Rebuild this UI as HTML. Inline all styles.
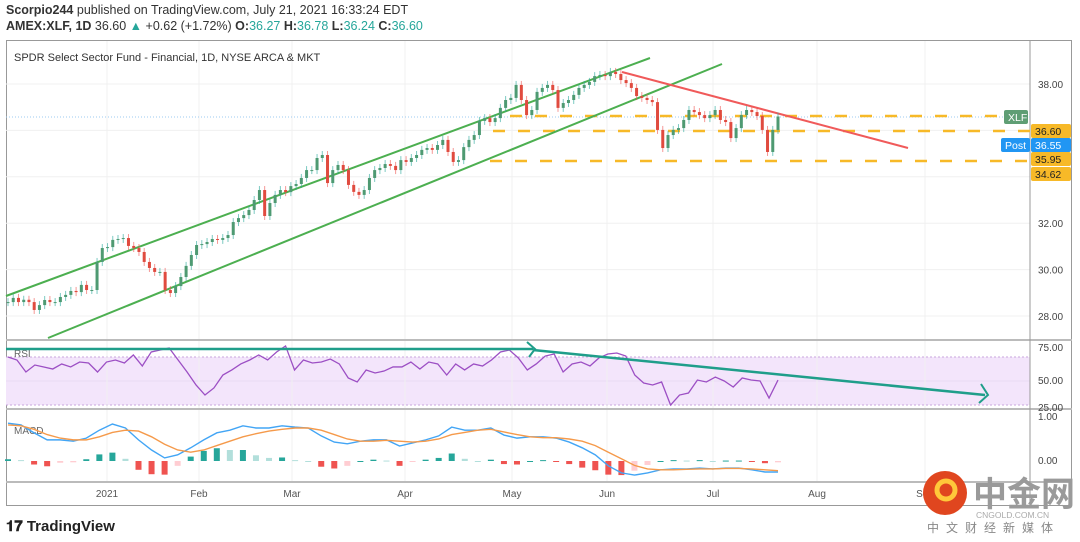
<!DOCTYPE html>
<html><head><meta charset="utf-8"><style>
body{margin:0;width:1080px;height:542px;background:#fff;overflow:hidden;font-family:"Liberation Sans","Noto Sans CJK SC",sans-serif;}
#hdr1{position:absolute;left:6px;top:3px;font-size:12.5px;color:#333;}
#hdr2{position:absolute;left:6px;top:19px;font-size:12.5px;color:#333;}
.t{color:#26a69a}
svg{position:absolute;left:0;top:0}
</style></head><body>
<div id="hdr1"><b>Scorpio244</b> published on TradingView.com, July 21, 2021 16:33:24 EDT</div>
<div id="hdr2"><b>AMEX:XLF, 1D</b> 36.60 <span class="t">▲</span> +0.62 (+1.72%) <b>O:</b><span class="t">36.27</span> <b>H:</b><span class="t">36.78</span> <b>L:</b><span class="t">36.24</span> <b>C:</b><span class="t">36.60</span></div>
<svg id="c" width="1080" height="542"></svg>
<script>
const closes=[28.6,28.78,28.6,28.7,28.6,28.26,28.47,28.69,28.6,28.6,28.82,28.91,29.08,29.03,29.34,29.12,29.12,30.33,30.93,30.97,31.28,31.32,31.36,31.02,30.93,30.76,30.33,30.07,29.9,29.9,29.12,28.99,29.29,29.68,30.16,30.63,31.06,31.1,31.19,31.32,31.28,31.36,31.49,32.05,32.22,32.35,32.57,33.0,33.43,32.31,32.87,33.22,33.43,33.34,33.6,33.69,33.95,34.29,34.29,34.81,34.94,33.73,34.29,34.51,34.29,33.65,33.35,33.22,33.43,33.95,34.29,34.38,34.55,34.47,34.29,34.72,34.64,34.81,34.94,35.16,35.24,35.16,35.37,35.59,35.07,34.64,34.72,35.28,35.59,35.8,36.41,36.53,36.36,36.53,36.97,37.31,37.4,37.96,37.31,36.66,36.88,37.66,37.83,37.96,37.74,36.97,37.18,37.31,37.53,37.83,37.96,38.09,38.34,38.39,38.34,38.52,38.43,38.17,38.04,37.83,37.48,37.4,37.31,37.22,36.02,35.24,35.8,36.02,36.1,36.45,36.88,36.79,36.66,36.53,36.66,36.88,36.45,36.36,35.67,36.1,36.66,36.88,36.79,36.62,36.02,35.07,36.02,36.6];
const rsi=[70,67.5,57.5,63.3,61.7,60,64.2,61.7,65.8,65,57.5,65.8,67.5,65,71.7,62.5,74.2,75.8,77.5,67.5,57.5,46.7,38.3,44.2,55,59.2,64.2,67.5,71.7,67.5,74.2,79.2,59.2,67.5,65,65.8,68.3,64.2,52.5,49.2,59.2,56.7,58.3,61.7,61.7,65.8,60,65.8,64.2,55,64.2,59.2,64.2,62.5,67.5,74.2,75.8,69.2,59.2,64.2,70.8,72.5,57.5,64.2,65.8,62.5,69.2,72.5,73.3,70.8,55,48.3,46.7,49.2,30,38.3,40,50.8,49.2,53.3,50,45,52.5,50.8,50,35.8,50.8];
const macd=[0.86,0.82,0.64,0.48,0.48,0.45,0.52,0.7,0.84,0.75,0.48,0.25,0.07,0.14,0.3,0.48,0.64,0.7,0.8,0.75,0.75,0.8,0.77,0.75,0.57,0.43,0.39,0.45,0.48,0.48,0.34,0.41,0.48,0.57,0.77,0.7,0.7,0.75,0.59,0.52,0.55,0.55,0.52,0.43,0.3,0.14,-0.11,-0.27,-0.32,-0.27,-0.2,-0.18,-0.18,-0.16,-0.18,-0.16,-0.16,-0.2,-0.25,-0.25];
const signal=[0.82,0.8,0.72,0.6,0.52,0.48,0.48,0.55,0.65,0.7,0.68,0.55,0.38,0.25,0.2,0.25,0.35,0.45,0.55,0.62,0.68,0.72,0.75,0.75,0.7,0.6,0.5,0.45,0.45,0.47,0.45,0.43,0.45,0.5,0.6,0.65,0.7,0.72,0.66,0.6,0.55,0.53,0.53,0.5,0.45,0.35,0.2,0.05,-0.1,-0.18,-0.2,-0.2,-0.19,-0.18,-0.18,-0.17,-0.17,-0.18,-0.2,-0.22];
const priceTicks=["38.00","32.00","30.00","28.00"];
const monthLabels=["2021","Feb","Mar","Apr","May","Jun","Jul","Aug","Sep"];
const monthPos=[107,199,292,405,512,607,713,817,925];

const S=document.getElementById('c');const NS='http://www.w3.org/2000/svg';
function mk(t,a,name,p){const e=document.createElementNS(NS,t);for(const k in a)e.setAttribute(k,a[k]);


(p||S).appendChild(e);return e;}
const X0=8,X1=778;
const xi=(i,n)=>X0+i*(X1-X0)/(n-1);
const yP=p=>84+(38-p)*23.2;
const yR=v=>381-(v-50)*1.2;
const yM=v=>461-v*44;
mk('rect',{x:6.5,y:40.5,width:1065,height:465,fill:'none',stroke:'#999'},'chart-frame');
mk('rect',{x:6,y:357,width:1024,height:48,fill:'#f3e5fb'},'rsi-band');
mk('line',{x1:6,y1:357,x2:1030,y2:357,stroke:'#c9a6dd','stroke-dasharray':'2 2'},'rsi-upper');
mk('line',{x1:6,y1:405,x2:1030,y2:405,stroke:'#c9a6dd','stroke-dasharray':'2 2'},'rsi-lower');
mk('line',{x1:6,y1:381,x2:1030,y2:381,stroke:'#eadcf3'},'rsi-mid');
monthPos.forEach((x,i)=>{mk('line',{x1:x,y1:41,x2:x,y2:482,stroke:'#f0f0f0'},'grid-v');
const t=mk('text',{x:x,y:497,'font-size':10,'text-anchor':'middle',fill:'#555'},'time-label');t.textContent=monthLabels[i];});
[38,32,30,28,34,36].forEach(p=>mk('line',{x1:6,y1:yP(p),x2:1030,y2:yP(p),stroke:'#f0f0f0'},'grid-h'));
[340,409,482].forEach(y=>mk('line',{x1:6,y1:y,x2:1072,y2:y,stroke:'#bbb','stroke-width':2},'pane-sep'));
mk('line',{x1:1030,y1:40,x2:1030,y2:505,stroke:'#999'},'price-axis-line');
priceTicks.forEach(p=>{const t=mk('text',{x:1038,y:yP(+p)+4,'font-size':10,fill:'#444'},'price-tick');t.textContent=p;});
[["75.00",351],["50.00",384],["25.00",411],["1.00",420],["0.00",464]].forEach(a=>{const t=mk('text',{x:1038,y:a[1],'font-size':10,fill:'#444'},'ind-tick');t.textContent=a[0];});
let tt=mk('text',{x:14,y:61,'font-size':11,fill:'#333'},'chart-title');tt.textContent='SPDR Select Sector Fund - Financial, 1D, NYSE ARCA & MKT';
tt=mk('text',{x:14,y:357,'font-size':10,fill:'#666'},'rsi-label');tt.textContent='RSI';
tt=mk('text',{x:14,y:434,'font-size':10,fill:'#666'},'macd-label');tt.textContent='MACD';
mk('line',{x1:6,y1:117,x2:1030,y2:117,stroke:'#9ecbf0','stroke-dasharray':'1 2'},'last-price-line');
[[116,510],[131,493],[161,490]].forEach(a=>mk('line',{x1:a[1],y1:a[0],x2:1030,y2:a[0],stroke:'#f7b928','stroke-width':2.5,'stroke-dasharray':'12 13'},'support-level'));
mk('line',{x1:6,y1:296,x2:650,y2:58,stroke:'#4caf50','stroke-width':2},'channel-upper');
mk('line',{x1:48,y1:338,x2:722,y2:64,stroke:'#4caf50','stroke-width':2},'channel-lower');
mk('line',{x1:622,y1:72,x2:908,y2:148,stroke:'#f05a5a','stroke-width':2},'resistance-line');
const n=closes.length,bw=3;
closes.forEach((c,i)=>{const o=i?closes[i-1]:c;const up=c>=o;const col=up?'#26a69a':'#ef5350';const x=xi(i,n);
const top=yP(Math.max(o,c)),bot=yP(Math.min(o,c));
mk('line',{x1:x,y1:top-4,x2:x,y2:bot+4,stroke:col,'stroke-opacity':0.6},'candle-wick');
mk('rect',{x:x-bw/2,y:top,width:bw,height:Math.max(1,bot-top),fill:up?'#4e9a72':'#e04b3f'},'candle');});
mk('polyline',{points:rsi.map((v,i)=>xi(i,rsi.length)+','+yR(v)).join(' '),fill:'none',stroke:'#9c4fc4','stroke-width':1.3},'rsi-line');
const m=macd.length;
macd.forEach((v,i)=>{const h=v-signal[i];const ph=i?macd[i-1]-signal[i-1]:h;const x=xi(i,m);
const col=h>=0?(h>=ph?'#26a69a':'#b2dfdb'):(h<=ph?'#ef5350':'#ffcdd2');const y0=yM(0),y1=yM(h);
mk('rect',{x:x-3,y:Math.min(y0,y1),width:6,height:Math.max(1,Math.abs(y1-y0)),fill:col},'macd-hist');});
mk('polyline',{points:macd.map((v,i)=>xi(i,m)+','+yM(v)).join(' '),fill:'none',stroke:'#42a5f5','stroke-width':1.4},'macd-line');
mk('polyline',{points:signal.map((v,i)=>xi(i,m)+','+yM(v)).join(' '),fill:'none',stroke:'#f59a4b','stroke-width':1.4},'signal-line');
mk('line',{x1:6,y1:349,x2:533,y2:349,stroke:'#1f9e8a','stroke-width':2.5},'rsi-arrow-1');
mk('polyline',{points:'527,342 535,349 529,357',fill:'none',stroke:'#1f9e8a','stroke-width':2},'rsi-arrowhead-1');
mk('line',{x1:533,y1:350,x2:985,y2:395,stroke:'#1f9e8a','stroke-width':2.5},'rsi-arrow-2');
mk('polyline',{points:'981,384 988,395 979,403',fill:'none',stroke:'#1f9e8a','stroke-width':2},'rsi-arrowhead-2');
function lab(y,txt,bg,name,x,w,fg){const g=mk('g',{},name);mk('rect',{x:x,y:y-7,width:w,height:14,rx:2,fill:bg},name+'-bg',g);
const t=mk('text',{x:x+4,y:y+4,'font-size':10.5,fill:fg||'#222'},name+'-text',g);t.textContent=txt;}
lab(117,'XLF','#5f9e74','symbol-tag',1004,24,'#fff');
lab(131,'36.60','#f7b928','level-36-60',1031,40);
lab(145,'Post','#2196f3','post-tag',1001,29,'#fff');
lab(145,'36.55','#2196f3','post-price',1031,40,'#fff');
lab(159,'35.95','#f7b928','level-35-95',1031,40);
lab(174,'34.62','#f7b928','level-34-62',1031,40);
tt=mk('text',{x:6,y:531,'font-size':15,'font-weight':'bold',fill:'#222'},'tradingview-logo');tt.textContent='𝟏𝟕 TradingView';
mk('circle',{cx:945,cy:493,r:22,fill:'#e0461f'},'watermark-logo');
mk('circle',{cx:946,cy:490,r:9,fill:'none',stroke:'#ffc83a','stroke-width':5},'watermark-swirl');
tt=mk('text',{x:973,y:506,'font-size':34,'font-weight':'bold',fill:'#9a9a9a','font-family':'Noto Sans CJK SC'},'watermark-name');tt.textContent='中金网';
tt=mk('text',{x:976,y:518,'font-size':8.5,fill:'#aaa'},'watermark-url');tt.textContent='CNGOLD.COM.CN';
tt=mk('text',{x:927,y:532,'font-size':12,fill:'#888','letter-spacing':'7','font-family':'Noto Sans CJK SC'},'watermark-slogan');tt.textContent='中文财经新媒体';
</script>
</body></html>
